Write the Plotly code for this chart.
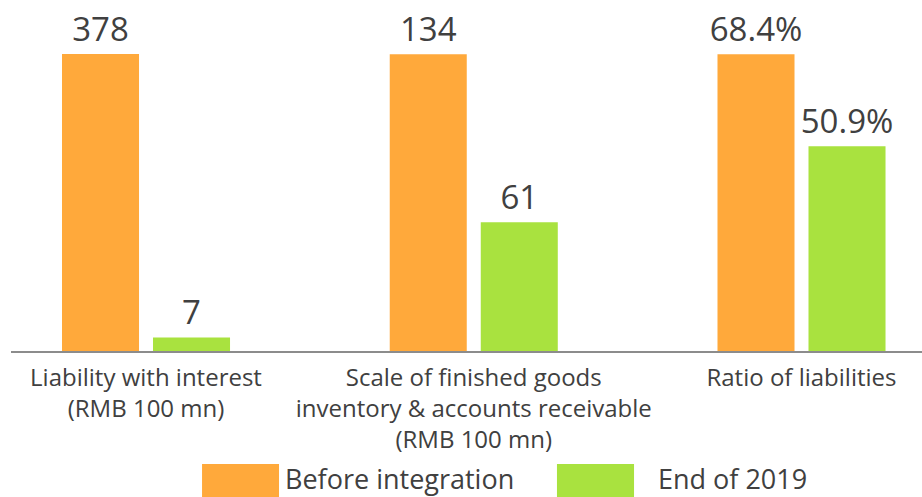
import plotly.graph_objects as go

# ---- data ----
categories = [
    "Liability with interest<br>(RMB 100 mn)",
    "Scale of finished goods<br>inventory & accounts receivable<br>(RMB 100 mn)",
    "Ratio of liabilities",
]
series_names = ["Before integration", "End of 2019"]
before_values = [378, 134, 68.4]
end2019_values = [7, 61, 50.9]
value_suffix = ["", "", "%"]

# ---- styles ----
colors = ["#FFA93B", "#A9E23F"]
text_color = "#404040"
font_family = "Open Sans, Noto Sans, DejaVu Sans, sans-serif"

# each group is drawn against its own value axis (independent scales)
group_axis_ranges = [(-10.7, 448.8), (5.16, 157.5), (12.0, 78.7)]
bar_width = 0.235
bar_offsets = [-0.2563, 0.0214]

fig = go.Figure()
series_values = [before_values, end2019_values]
for gi in range(len(categories)):
    yname = "y" if gi == 0 else f"y{gi+1}"
    lo, hi = group_axis_ranges[gi]
    for si, name in enumerate(series_names):
        v = series_values[si][gi]
        fig.add_trace(go.Bar(
            x=[gi], y=[v - lo], base=[lo],
            name=name, showlegend=False,
            yaxis=yname,
            width=[bar_width], offset=[bar_offsets[si]],
            marker=dict(color=colors[si], line=dict(width=0)),
            text=[f"{v}{value_suffix[gi]}"],
            textposition="outside",
            constraintext="none",
            textfont=dict(size=33, color=text_color, family=font_family),
            cliponaxis=False,
            hoverinfo="skip",
        ))

layout_axes = {}
for gi in range(len(categories)):
    key = "yaxis" if gi == 0 else f"yaxis{gi+1}"
    lo, hi = group_axis_ranges[gi]
    ax = dict(range=[lo, hi], showgrid=False, zeroline=False,
              showticklabels=False, showline=False, ticks="")
    if gi > 0:
        ax["overlaying"] = "y"
    layout_axes[key] = ax

fig.update_layout(
    width=922, height=497,
    margin=dict(l=11, r=0, t=0, b=146),
    paper_bgcolor="white", plot_bgcolor="white",
    barmode="overlay",
    font=dict(family=font_family, color=text_color),
    xaxis=dict(
        range=[-0.4119, 2.3677],
        tickvals=list(range(len(categories))),
        ticktext=categories,
        tickfont=dict(size=24, color=text_color, family=font_family),
        showgrid=False, zeroline=False,
        showline=True, linecolor="#8C8C8C", linewidth=2,
        ticks="", ticklabelstandoff=4,
    ),
    **layout_axes,
)

# custom legend (large swatches)
legend_x = [(0.2097, 0.2942, 0.2986), (0.5993, 0.6839, 0.708)]
for si, name in enumerate(series_names):
    x0, x1, tx = legend_x[si]
    fig.add_shape(type="rect", xref="paper", yref="paper",
                  x0=x0, x1=x1, y0=-0.44, y1=-0.322,
                  fillcolor=colors[si], line=dict(width=0))
    fig.add_annotation(xref="paper", yref="paper", x=tx, y=-0.364,
                       text=name, showarrow=False, xanchor="left", yanchor="middle",
                       font=dict(size=27, color=text_color, family=font_family))

fig.write_html("out.html")
